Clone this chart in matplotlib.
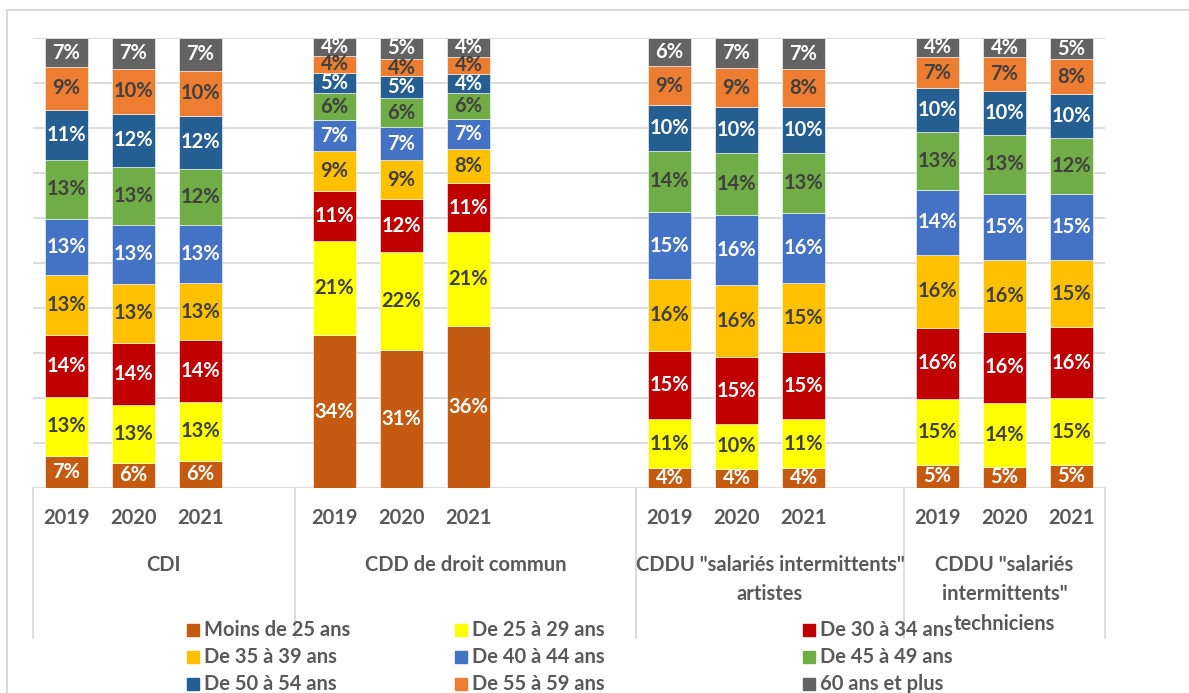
import numpy as np
import matplotlib
matplotlib.use("Agg")
import matplotlib.pyplot as plt
from matplotlib.patches import Rectangle

plt.rcParams['font.family'] = ['Lato', 'DejaVu Sans']

# categories
groups = ['CDI', 'CDD de droit commun', 'CDDU "salariés intermittents"\nartistes',
          'CDDU "salariés\nintermittents"\ntechniciens']
years = ['2019', '2020', '2021']
series = ['Moins de 25 ans', 'De 25 à 29 ans', 'De 30 à 34 ans',
          'De 35 à 39 ans', 'De 40 à 44 ans', 'De 45 à 49 ans',
          'De 50 à 54 ans', 'De 55 à 59 ans', '60 ans et plus']
colors = ['#C55A11', '#FFFF00', '#C00000', '#FFC000', '#4472C4',
          '#70AD47', '#255E91', '#ED7D31', '#636363']
txtcol = ['white', '#404040', 'white', '#404040', 'white',
          '#404040', 'white', '#404040', 'white']

# shares in % per bar (CDI 19,20,21 / CDD / artistes / techniciens)
moins25 = [7.0, 5.6, 5.9, 33.9, 30.6, 36.0, 4.4, 4.2, 4.4, 5.0, 4.6, 5.0]
de25_29 = [13.3, 12.8, 13.2, 20.9, 21.9, 20.8, 10.8, 9.9, 10.7, 14.7, 14.3, 14.8]
de30_34 = [13.6, 13.9, 13.6, 11.3, 11.8, 11.0, 15.1, 14.9, 15.0, 15.9, 15.8, 15.7]
de35_39 = [13.4, 13.2, 12.7, 8.7, 8.7, 7.6, 16.0, 16.0, 15.1, 16.2, 15.9, 14.9]
de40_44 = [12.6, 13.0, 12.9, 7.0, 7.4, 6.7, 15.0, 15.6, 15.5, 14.4, 14.8, 14.6]
de45_49 = [13.1, 13.0, 12.4, 5.9, 6.4, 5.6, 13.6, 13.7, 13.3, 13.0, 13.0, 12.4]
de50_54 = [11.2, 11.9, 11.9, 4.6, 4.9, 4.4, 10.1, 10.2, 10.2, 9.7, 9.9, 9.9]
de55_59 = [9.4, 9.9, 10.0, 3.7, 3.9, 3.7, 8.7, 8.6, 8.4, 6.9, 7.4, 7.6]
plus60 = [6.6, 7.0, 7.3, 4.1, 4.7, 4.3, 6.3, 6.8, 7.0, 4.3, 4.4, 4.8]

data = np.array([moins25, de25_29, de30_34, de35_39, de40_44,
                 de45_49, de50_54, de55_59, plus60])
heights = data / data.sum(axis=0) * 100  # 100% stacked

# bar slots (Excel leaves empty categories between groups)
xpos = [0, 1, 2, 4, 5, 6, 9, 10, 11, 13, 14, 15]
seps = [-0.5, 3.41, 8.5, 12.5, 15.5]

fig = plt.figure(figsize=(11.89, 6.93), dpi=100)
W, H = 1189, 693
ax = fig.add_axes([33 / W, (H - 487.7) / H, 1072 / W, 450 / H])

# outer border
fig.patches.append(Rectangle((7 / W, -0.1), 1.2, (H - 10) / H + 0.1, transform=fig.transFigure,
                             fill=False, edgecolor='#d9d9d9', lw=1.5))

for g in range(0, 101, 10):
    ax.axhline(g, color='#d9d9d9', lw=1.3, zorder=0)

bottom = np.zeros(len(xpos))
for i in range(len(series)):
    ax.bar(xpos, heights[i], bottom=bottom, width=0.63, color=colors[i],
           edgecolor='white', linewidth=0.4, zorder=2, label=series[i])
    for j, x in enumerate(xpos):
        lab = f"{int(data[i, j] + 0.5)}%"
        ax.text(x, bottom[j] + heights[i][j] / 2, lab, ha='center', va='center',
                fontsize=14.5, fontweight='bold', color=txtcol[i], zorder=3)
    bottom += heights[i]

ax.set_xlim(-0.5, 15.5)
ax.set_ylim(0, 100)
ax.axis('off')

tr = ax.get_xaxis_transform()
for j, x in enumerate(xpos):
    ax.text(x, -30.3 / 450, years[j % 3], transform=tr, ha='center', va='center',
            fontsize=14.5, fontweight='bold', color='#595959')

centers = [(seps[k] + seps[k + 1]) / 2 for k in range(4)]
for k, gname in enumerate(groups):
    ax.text(centers[k], -67 / 450, gname, transform=tr, ha='center', va='top',
            fontsize=14.5, fontweight='bold', color='#595959', linespacing=1.6)

for s in seps:
    ax.plot([s, s], [0, -150 / 450], transform=tr, color='#d9d9d9', lw=1.3, clip_on=False)

# legend, filled row by row like Excel
colx = [187, 455, 803]
rowy = [630, 657, 684]
for i, name in enumerate(series):
    cx = colx[i % 3]
    cy = rowy[i // 3]
    fig.patches.append(Rectangle((cx / W, (H - cy - 6) / H), 12 / W, 12 / H,
                                 transform=fig.transFigure, color=colors[i]))
    fig.text((cx + 17) / W, (H - cy) / H, name, ha='left', va='center',
             fontsize=14.5, fontweight='bold', color='#595959')

fig.savefig('out.png', dpi=100)
